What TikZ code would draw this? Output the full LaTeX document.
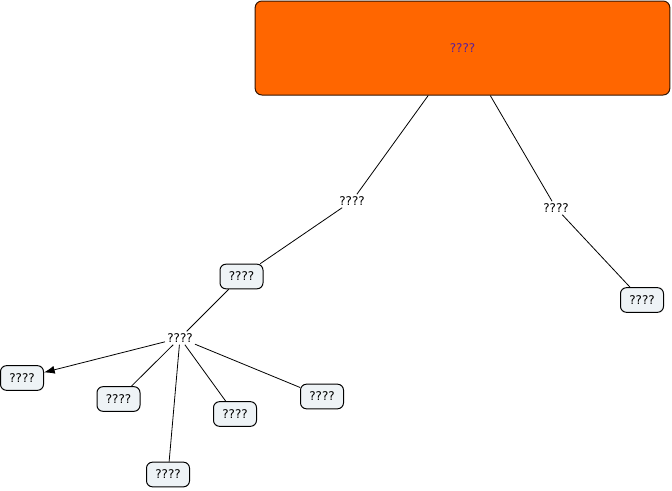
\documentclass[tikz,border=0pt]{standalone}
\usepackage{fontspec}
\setmainfont{DejaVu Sans}
\usetikzlibrary{arrows.meta}
\definecolor{mainfill}{HTML}{FF6600}
\definecolor{maintext}{HTML}{5A1F9A}
\definecolor{boxfill}{HTML}{EEF3F6}
\begin{document}
\begin{tikzpicture}[x=0.75pt,y=-0.75pt,
  every node/.style={font=\fontsize{9}{11}\selectfont},
  concept/.style={draw=black, fill=boxfill, rounded corners=4.5pt, line width=0.75pt, minimum width=32.25pt, minimum height=18.5pt, inner sep=1pt},
  linklabel/.style={inner sep=1.5pt, fill=white},
  conn/.style={draw=black, line width=0.6pt}]
\useasboundingbox (0,0) rectangle (672,490);
\node[draw=black!80!mainfill, fill=mainfill, rounded corners=5pt, line width=0.75pt, minimum width=311pt, minimum height=70.5pt, text=maintext] (main) at (462.5,48) {????};
\node[linklabel] (l1) at (352,201) {????};
\node[linklabel] (l2) at (556,208) {????};
\node[concept] (a) at (241.5,276.5) {????};
\node[concept] (r) at (642,300) {????};
\node[linklabel] (l3) at (180,338) {????};
\node[concept] (n1) at (22,378) {????};
\node[concept] (n2) at (118.5,399) {????};
\node[concept] (n3) at (235,414) {????};
\node[concept] (n4) at (322,396.5) {????};
\node[concept] (n5) at (168,474.5) {????};
\draw[conn] (main) -- (l1);
\draw[conn] (l1) -- (a);
\draw[conn] (main) -- (l2);
\draw[conn] (l2) -- (r);
\draw[conn] (a) -- (l3);
\draw[conn,-{Latex[length=8pt,width=6pt]}] (l3) -- (n1);
\draw[conn] (l3) -- (n2);
\draw[conn] (l3) -- (n3);
\draw[conn] (l3) -- (n4);
\draw[conn] (l3) -- (n5);
\end{tikzpicture}
\end{document}
